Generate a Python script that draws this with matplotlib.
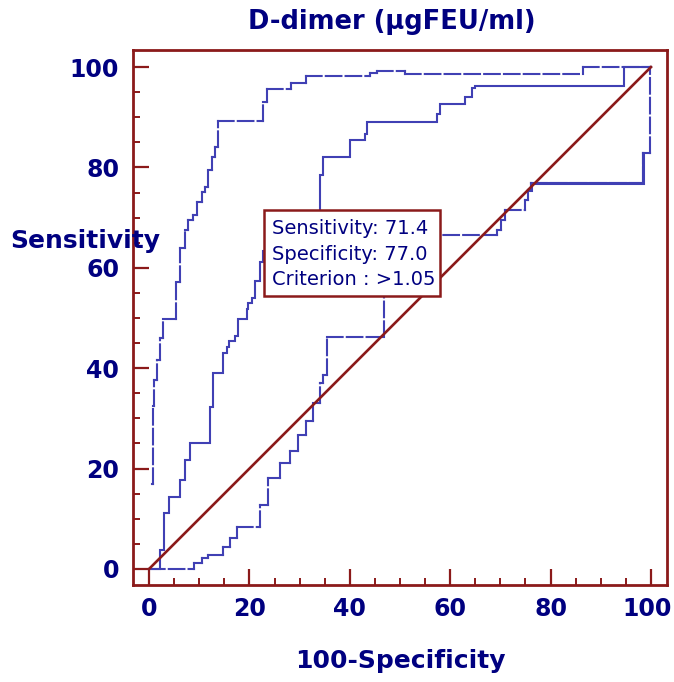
import matplotlib
matplotlib.use("Agg")
import matplotlib.pyplot as plt
import numpy as np
from matplotlib.collections import LineCollection
from matplotlib.ticker import MultipleLocator
from matplotlib.patches import Rectangle
import matplotlib.transforms as mtransforms

# ---------------- data ----------------
title = "D-dimer (µgFEU/ml)"
xlabel = "100-Specificity"
ylabel = "Sensitivity"
ticks = [0, 20, 40, 60, 80, 100]
box_lines = ["Sensitivity: 71.4", "Specificity: 77.0", "Criterion : >1.05"]

upper_x = [0.5, 0.7, 0.7, 1.0, 1.0, 1.6, 1.6, 2.1, 2.1, 2.7, 2.7, 5.3, 5.3, 6.2, 6.2, 7.2, 7.2, 7.8, 7.8, 8.8,
           8.8, 9.5, 9.5, 10.5, 10.5, 11.2, 11.2, 11.8, 11.8, 12.5, 12.5, 13.1, 13.1, 13.8, 13.8, 22.8, 22.8, 23.4,
           23.4, 28.2, 28.2, 31.3, 31.3, 44.0, 44.0, 45.5, 45.5, 51.0, 51.0, 86.5, 86.5, 100]
upper_y = [17.0, 17.0, 32.5, 32.5, 37.6, 37.6, 41.6, 41.6, 46.0, 46.0, 49.8, 49.8, 57.2, 57.2, 63.9, 63.9, 67.5,
           67.5, 69.5, 69.5, 70.5, 70.5, 73.2, 73.2, 75.2, 75.2, 76.2, 76.2, 79.5, 79.5, 82.1, 82.1, 84.1, 84.1,
           89.3, 89.3, 93.1, 93.1, 95.6, 95.6, 96.9, 96.9, 98.3, 98.3, 98.8, 98.8, 99.2, 99.2, 98.6, 98.6, 100, 100]

roc_x = [0, 2.2, 2.2, 3.0, 3.0, 3.9, 3.9, 6.2, 6.2, 7.1, 7.1, 8.2, 8.2, 12.2, 12.2, 12.8, 12.8, 14.8, 14.8, 15.5,
         15.5, 16.0, 16.0, 17.1, 17.1, 17.8, 17.8, 19.5, 19.5, 19.8, 19.8, 20.6, 20.6, 21.1, 21.1, 22.1, 22.1, 22.8,
         22.8, 28.0, 28.0, 34.1, 34.1, 34.7, 34.7, 40.0, 40.0, 43.0, 43.0, 43.5, 43.5, 57.3, 57.3, 58.0, 58.0, 63.0,
         63.0, 64.3, 64.3, 65.0, 65.0, 94.6, 94.6, 100]
roc_y = [0, 0, 3.8, 3.8, 11.1, 11.1, 14.4, 14.4, 17.7, 17.7, 21.7, 21.7, 25.0, 25.0, 32.3, 32.3, 39.0, 39.0, 43.0,
         43.0, 44.3, 44.3, 45.4, 45.4, 46.4, 46.4, 49.9, 49.9, 51.8, 51.8, 53.0, 53.0, 54.0, 54.0, 57.4, 57.4, 61.2,
         61.2, 63.3, 63.3, 70.0, 70.0, 78.4, 78.4, 82.1, 82.1, 85.5, 85.5, 86.7, 86.7, 89.0, 89.0, 90.6, 90.6, 92.7,
         92.7, 94.1, 94.1, 95.8, 95.8, 96.2, 96.2, 100, 100]

lower_x = [0, 9.0, 9.0, 10.5, 10.5, 11.8, 11.8, 14.8, 14.8, 16.1, 16.1, 17.5, 17.5, 22.1, 22.1, 23.6, 23.6, 26.0,
           26.0, 28.0, 28.0, 29.6, 29.6, 31.2, 31.2, 32.7, 32.7, 34.1, 34.1, 34.7, 34.7, 35.4, 35.4, 46.8, 46.8, 69.3,
           69.3, 70.2, 70.2, 70.9, 70.9, 74.9, 74.9, 75.5, 75.5, 76.2, 76.2, 98.5, 98.5, 99.8, 99.8, 100]
lower_y = [0, 0, 1.1, 1.1, 2.1, 2.1, 2.8, 2.8, 4.3, 4.3, 6.1, 6.1, 8.4, 8.4, 12.7, 12.7, 18.1, 18.1, 21.2, 21.2,
           23.5, 23.5, 26.6, 26.6, 29.5, 29.5, 33.0, 33.0, 37.0, 37.0, 38.6, 38.6, 46.2, 46.2, 66.5, 66.5, 67.5, 67.5,
           69.5, 69.5, 71.5, 71.5, 73.5, 73.5, 75.5, 75.5, 76.9, 76.9, 82.8, 82.8, 100, 100]

diag_x = [0, 100]
diag_y = [0, 100]

# ---------------- style ----------------
MAROON = "#8B1A1A"
NAVY = "#000080"
BLUE = "#4040B4"
plt.rcParams["font.family"] = ["DejaVu Sans"]

fig = plt.figure(figsize=(6.74, 6.82), dpi=100)
W, H = 674, 682
ax = fig.add_axes([133 / W, 1 - 585 / H, (667 - 133) / W, (585 - 50) / H])
ax.set_xlim(-3.2, 103.2)
ax.set_ylim(-3.2, 103.4)

for s in ax.spines.values():
    s.set_color(MAROON)
    s.set_linewidth(2.0)

ax.set_xticks(ticks)
ax.set_yticks(ticks)
ax.xaxis.set_minor_locator(MultipleLocator(5))
ax.yaxis.set_minor_locator(MultipleLocator(5))
ax.tick_params(which="major", direction="in", length=11.5, width=1.6, color=MAROON,
               labelsize=17, labelcolor=NAVY)
ax.tick_params(which="minor", direction="in", length=5, width=1.4, color=MAROON)
ax.tick_params(axis="x", which="major", pad=9)
ax.tick_params(axis="y", which="major", pad=10)
for lab in ax.get_xticklabels() + ax.get_yticklabels():
    lab.set_fontweight("bold")
# keep the last x label inside the canvas
last = ax.get_xticklabels()[-1]
last.set_transform(last.get_transform() + mtransforms.ScaledTranslation(-4 / 100, 0, fig.dpi_scale_trans))


def dashed_steps(xs, ys, lw=1.5):
    pts = np.column_stack([xs, ys])
    segs = [pts[i:i + 2] for i in range(len(pts) - 1)]
    lc = LineCollection(segs, colors=BLUE, linewidths=lw,
                        linestyles=[(0, (7.5, 2.0))], capstyle="projecting", zorder=3)
    ax.add_collection(lc)


dashed_steps(upper_x, upper_y)
dashed_steps(lower_x, lower_y)
ax.plot(lower_x[44:49], lower_y[44:49], color=BLUE, lw=2.2, solid_joinstyle="miter", zorder=3)
ax.plot(roc_x, roc_y, color=BLUE, lw=1.5, solid_joinstyle="miter", zorder=3)
ax.plot(diag_x, diag_y, color=MAROON, lw=1.9, zorder=4)

# info box
bx0, bx1, by0, by1 = 22.9, 58.0, 54.3, 71.5
ax.add_patch(Rectangle((bx0, by0), bx1 - bx0, by1 - by0, facecolor="white",
                       edgecolor=MAROON, lw=1.8, zorder=6))
for i, line in enumerate(box_lines):
    ax.text(24.4, 67.9 - i * 5.15, line, color=NAVY, fontsize=14, va="center", ha="left", zorder=7)

fig.text(392 / W, 1 - 22 / H, title, color=NAVY, fontsize=18.5, fontweight="bold", ha="center", va="center")
fig.text(400 / W, 1 - 661 / H, xlabel, color=NAVY, fontsize=18, fontweight="bold", ha="center", va="center")
fig.text(10 / W, 1 - 241 / H, ylabel, color=NAVY, fontsize=18, fontweight="bold", ha="left", va="center",
         zorder=10)

fig.savefig("out.png", dpi=100, facecolor="white")
